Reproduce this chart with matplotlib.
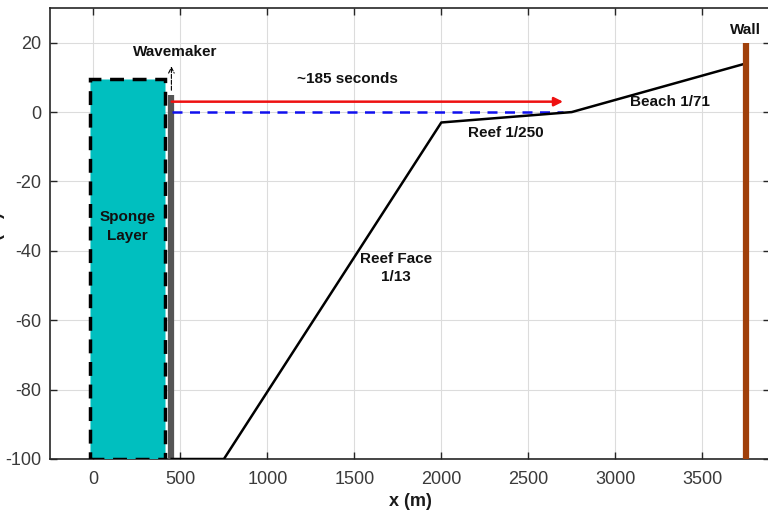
import matplotlib
matplotlib.use("Agg")
import matplotlib.pyplot as plt
from matplotlib.patches import Rectangle

plt.rcParams['font.family'] = ['Liberation Sans', 'DejaVu Sans']
plt.rcParams['axes.unicode_minus'] = False

# Bathymetry profile (x in m, z in m)
bathy_x = [450, 750, 2000, 2750, 3750]
bathy_z = [-100, -100, -3, 0, 14]

# Sponge layer extent
sponge_x = [-20, 410]
sponge_z = [-100, 9.5]

# Wavemaker
wavemaker_x = 443
wavemaker_z = [-100, 5]

# Wall
wall_x = 3750
wall_z = [-100, 20]

# Still water level and travel arrow
swl_x = [450, 2700]
swl_z = 0
arrow_x = [450, 2700]
arrow_z = 3

xticks = [0, 500, 1000, 1500, 2000, 2500, 3000, 3500]
yticks = [-100, -80, -60, -40, -20, 0, 20]

fig = plt.figure(figsize=(7.68, 5.19), dpi=100)
ax = fig.add_axes([50/768, 1-459/519, 720/768, 451/519])

ax.set_xlim(-250, 3890)
ax.set_ylim(-100, 30)
ax.set_xticks(xticks)
ax.set_yticks(yticks)
ax.grid(True, color='#dcdcdc', lw=0.8)
ax.set_axisbelow(True)
ax.tick_params(direction='in', top=True, right=True, length=5, width=1,
               labelsize=13, colors='#262626', labelcolor='#3a3a3a', pad=6)
ax.tick_params(axis='x', pad=9)
for s in ax.spines.values():
    s.set_color('#262626')
    s.set_linewidth(1.2)

# Sponge layer
ax.add_patch(Rectangle((sponge_x[0], sponge_z[0]), sponge_x[1]-sponge_x[0],
                       sponge_z[1]-sponge_z[0], facecolor='#00BFBF',
                       edgecolor='black', lw=2.5, ls=(0, (4, 2.5)), zorder=3))

# Wavemaker
ax.plot([wavemaker_x, wavemaker_x], wavemaker_z, color='#555555', lw=4.5,
        solid_capstyle='butt', zorder=4)
ax.annotate('', xy=(wavemaker_x + 5, 14), xytext=(wavemaker_x + 5, 5.5),
            arrowprops=dict(arrowstyle='->', color='black', lw=0.8, ls='--'),
            zorder=5)

# Still water line and travel arrow
ax.plot(swl_x, [swl_z, swl_z], color='#1010ee', lw=1.8, ls=(0, (4, 3)), zorder=4)
ax.annotate('', xy=(arrow_x[1], arrow_z), xytext=(arrow_x[0], arrow_z),
            arrowprops=dict(arrowstyle='-|>', color='#ee1111', lw=1.8,
                            mutation_scale=13, shrinkA=0, shrinkB=0), zorder=5)

# Bathymetry
ax.plot(bathy_x, bathy_z, color='black', lw=1.8, zorder=4)

# Wall
ax.plot([wall_x, wall_x], wall_z, color='#A0400A', lw=4.5,
        solid_capstyle='butt', zorder=4)

fs = 11
kw = dict(fontsize=fs, fontweight='bold', color='#111111', ha='center', va='center', zorder=6)
ax.text(471, 17.4, 'Wavemaker', **kw)
ax.text(1460, 9.6, '~185 seconds', **kw)
ax.text(2373, -6.1, 'Reef 1/250', **kw)
ax.text(3316, 2.9, 'Beach 1/71', **kw)
ax.text(3750, 23.8, 'Wall', **kw)
ax.text(195, -33, 'Sponge\nLayer', linespacing=1.5, **kw)
ax.text(1741, -45, 'Reef Face\n1/13', linespacing=1.4, **kw)

ax.set_xlabel('x (m)', fontsize=13, fontweight='bold', color='#1a1a1a', labelpad=3)
ax.set_ylabel('z (m)', fontsize=13, fontweight='bold', color='#1a1a1a')
ax.yaxis.set_label_coords(-0.062, 0.5)

fig.savefig('out.png', dpi=100)
